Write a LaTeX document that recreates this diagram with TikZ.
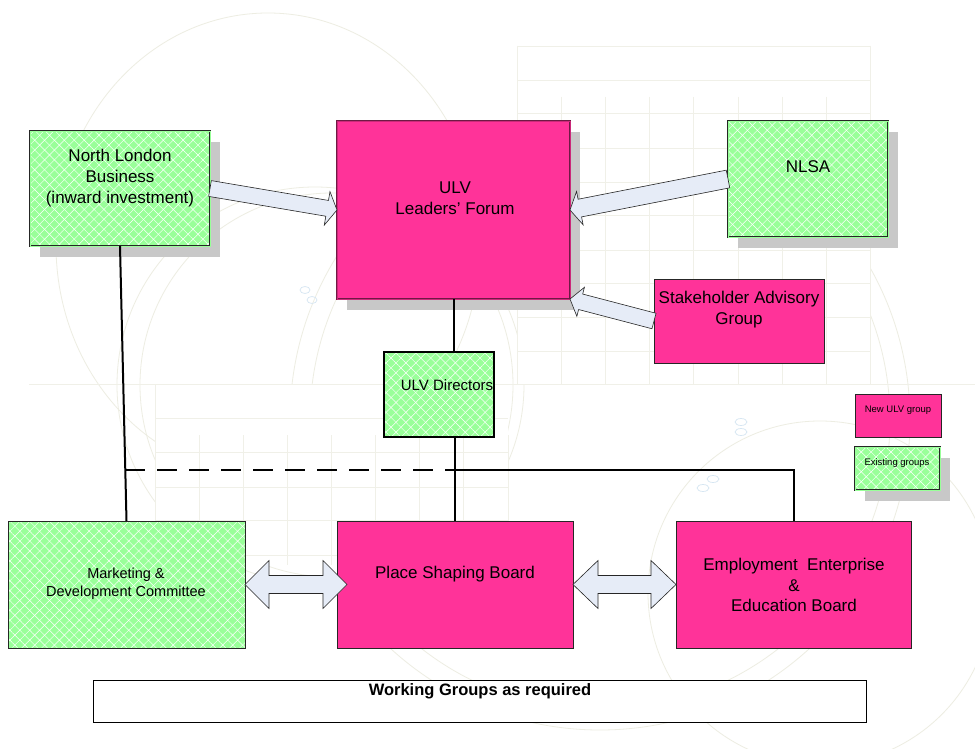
\documentclass[tikz,border=0pt]{standalone}
\usepackage{fontspec}
\setmainfont{Liberation Sans}
\usetikzlibrary{patterns.meta,shadows,calc}
\definecolor{ulvpink}{HTML}{FF3399}
\definecolor{grn}{HTML}{99FF99}
\definecolor{arrfill}{HTML}{E6ECF7}
\definecolor{shadowgray}{HTML}{C8C8C8}
\definecolor{wmline}{HTML}{EDEDE2}
\definecolor{wmgrid}{HTML}{F0F0E8}
\definecolor{wmblue}{HTML}{D6E6F2}
\definecolor{maroon}{HTML}{6E1A44}

\newcommand\blockarrow[5]{% from, to, shaft half, head length, head half
  \filldraw[barrow] let \p1=(#1), \p2=(#2),
    \n1={atan2(\y2-\y1,\x2-\x1)}, \n2={veclen(\x2-\x1,\y2-\y1)} in
    [shift={(\p1)}, rotate=\n1]
    (0pt,-#3pt) -- ({\n2-#4pt},-#3pt) -- ({\n2-#4pt},-#5pt) -- ({\n2+0pt},0pt)
    -- ({\n2-#4pt},#5pt) -- ({\n2-#4pt},#3pt) -- (0pt,#3pt) -- cycle;}
\newcommand\dblarrow[5]{% from, to, shaft half, head length, head half
  \filldraw[barrow] let \p1=(#1), \p2=(#2),
    \n1={atan2(\y2-\y1,\x2-\x1)}, \n2={veclen(\x2-\x1,\y2-\y1)} in
    [shift={(\p1)}, rotate=\n1]
    (0pt,0pt) -- (#4pt,-#5pt) -- (#4pt,-#3pt) -- ({\n2-#4pt},-#3pt) -- ({\n2-#4pt},-#5pt)
    -- ({\n2+0pt},0pt) -- ({\n2-#4pt},#5pt) -- ({\n2-#4pt},#3pt) -- (#4pt,#3pt) -- (#4pt,#5pt) -- cycle;}

\tikzset{
  box/.style={anchor=north west, inner sep=0pt, outer sep=0pt},
  shadowed/.style={drop shadow={shadow xshift=10pt, shadow yshift=-11pt, fill=shadowgray, opacity=1}},
  greenfill/.style={preaction={fill=grn},
    preaction={pattern={Lines[angle=45,distance=7pt,line width=0.45pt]}, pattern color=white},
    preaction={pattern={Lines[angle=-45,distance=7pt,line width=0.45pt]}, pattern color=white}},
  greendouble/.style={greenfill, draw=black!85, line width=0.9pt, double=grn, double distance=0.9pt},
  pinkbox/.style={fill=ulvpink, draw=black!85, line width=0.6pt},
  pinkdouble/.style={fill=ulvpink, draw=maroon, line width=0.9pt, double=ulvpink!80!black, double distance=0.9pt},
  txt/.style={align=center, inner sep=0pt, font=\fontsize{17}{21}\selectfont},
  conn/.style={draw=black, line width=2pt},
  barrow/.style={fill=arrfill, draw=black!85, line width=0.6pt, line join=miter},
  wm/.style={draw=wmline, line width=0.8pt},
  wmg/.style={draw=wmgrid, line width=0.8pt},
}

\begin{document}
\begin{tikzpicture}[x=1pt,y=-1pt]
\useasboundingbox (0,0) rectangle (975,749);
\fill[white] (0,0) rectangle (975,749);

% faint watermark background: arcs
\begin{scope}[wm]
  \draw (268,245) ellipse [x radius=212, y radius=232];
  \draw (315,385) circle [radius=198];
  \draw (332,385) circle [radius=192];
  \draw (600,420) circle [radius=310];
  \draw (600,420) circle [radius=290];
  \draw (820,593) circle [radius=172];
\end{scope}
% faint watermark background: grid panels
\fill[white] (517,46) rectangle (870,384);
\fill[white] (155,384) rectangle (508,565);
\begin{scope}[wmg]
  \foreach \y in {46,80,113,148,182,215,250,283,317,351} \draw (517,\y) -- (870,\y);
  \foreach \x in {561,605,649,693,738,782,826} \draw (\x,97) -- (\x,384);
  \draw (517,46) -- (517,384);
  \draw (870,46) -- (870,384);
  \draw (29,384) -- (975,384);
  \draw (155,384) -- (155,565);
  \foreach \x in {199,243,287,331,375,419,463,508} \draw (\x,435) -- (\x,565);
  \foreach \y in {418,452,487,520,555} \draw (155,\y) -- (508,\y);
\end{scope}
\begin{scope}[draw=wmblue, line width=0.7pt]
  \draw (305,290) ellipse [x radius=5, y radius=3.5];
  \draw (312,300) ellipse [x radius=5, y radius=3.5];
  \draw (703,488) ellipse [x radius=6, y radius=3.5];
  \draw (713,479) ellipse [x radius=6, y radius=3.5];
  \draw (741,432) ellipse [x radius=6, y radius=3.5];
  \draw (741,422) ellipse [x radius=6, y radius=3.5];
\end{scope}

% boxes
\node[box, shadowed, greendouble, minimum width=180pt, minimum height=115pt] (nlb) at (30,131) {};
\node[box, shadowed, pinkdouble, minimum width=233pt, minimum height=178pt] (forum) at (337,121) {};
\node[box, shadowed, greendouble, minimum width=160pt, minimum height=116pt] (nlsa) at (728,121) {};
\node[box, pinkbox, minimum width=170pt, minimum height=84pt] (sag) at (654,279) {};
\node[box, greenfill, draw=black, line width=1.8pt, minimum width=110pt, minimum height=85pt] (dir) at (384,352) {};
\node[box, pinkbox, minimum width=86pt, minimum height=43pt] (newleg) at (855,394) {};
\node[box, shadowed, greendouble, minimum width=85pt, minimum height=43pt] (exleg) at (855,447) {};
\node[box, greenfill, draw=black!85, line width=1pt, minimum width=237pt, minimum height=127pt] (mdc) at (8,521) {};
\node[box, pinkbox, minimum width=236pt, minimum height=127pt] (psb) at (337,521) {};
\node[box, pinkbox, minimum width=235pt, minimum height=127pt] (eeeb) at (676,521) {};
\node[box, fill=white, draw=black, line width=1pt, minimum width=773pt, minimum height=42pt] (wg) at (93,680) {};

% texts
\node[txt] (nlbT) at (120,178) {North London\\Business\\(inward investment)};
\node[txt] (forumT) at (455,198) {ULV\\Leaders’ Forum};
\node[txt] (nlsaT) at (808,167) {NLSA};
\node[txt] (sagT) at (739,310) {Stakeholder Advisory\\Group};
\node[txt, font=\fontsize{15}{18}\selectfont] (dirT) at (447,385) {ULV Directors};
\node[txt, font=\fontsize{9.5}{11}\selectfont] (newT) at (898,410) {New ULV group};
\node[txt, font=\fontsize{9.5}{11}\selectfont] (exT) at (897,463) {Existing groups};
\node[txt, font=\fontsize{14.5}{18}\selectfont] (mdcT) at (126,584) {Marketing \&\\Development Committee};
\node[txt] (psbT) at (455,574) {Place Shaping Board};
\node[txt, font=\fontsize{17}{20.5}\selectfont] (eeebT) at (794,585) {Employment\ \ Enterprise\\\&\\Education Board};
\node[txt, font=\fontsize{16.5}{20}\selectfont\bfseries] (wgT) at (480,691) {Working Groups as required};

% connectors
\draw[conn] (nlb.south) -- (mdc.north);
\coordinate (j1) at ($(nlb.south)!0.8145!(mdc.north)$);
\coordinate (j2) at (j1 -| psb.north);
\draw[conn] (forum.south) -- (forum.south |- dir.north);
\draw[conn] (psb.north |- dir.south) -- (psb.north);
\draw[conn, dash pattern=on 20pt off 12pt] (j1) -- (j2);
\draw[conn] ($(j2)+(-6,0)$) -- (j2 -| eeeb.north) -- (eeeb.north);

% block arrows
\blockarrow{nlb.east}{forum.west}{8}{10}{17}
\blockarrow{nlsa.west}{forum.east}{9}{10}{17}
\blockarrow{sag.west}{forum.south east}{8}{11}{15}
\coordinate (psbtip) at ($(psb.west)+(10,0)$);
\dblarrow{mdc.east}{psbtip}{9}{24}{24}
\dblarrow{psb.east}{eeeb.west}{9}{25}{24}
\end{tikzpicture}
\end{document}
